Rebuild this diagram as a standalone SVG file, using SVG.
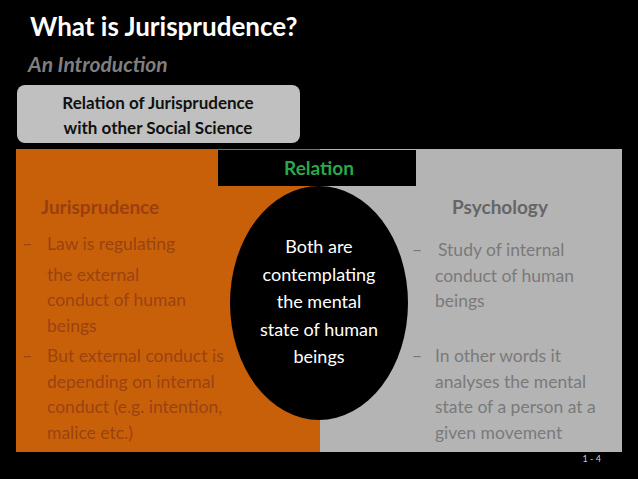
<svg xmlns="http://www.w3.org/2000/svg" width="638" height="479" viewBox="0 0 638 479">
<style>
text{font-family:Lato,"Open Sans","Liberation Sans",sans-serif}
.o{fill:#9a4310;font-size:17.5px}
.g{fill:#7a7a7a;font-size:17.5px}
.w{fill:#fff;font-size:18px}
</style>
<rect width="638" height="479" fill="#000"/>
<g id="title">
<text x="30" y="36" font-size="26" font-weight="bold" fill="#fff">What is Jurisprudence?</text>
<text x="28" y="72" font-size="21" font-weight="bold" font-style="italic" fill="#7f7f7f">An Introduction</text>
</g>
<g id="subtitle">
<rect x="17" y="85" width="283" height="58" rx="8" fill="#c0c0c0"/>
<text x="158" y="109" font-size="17" font-weight="bold" fill="#111" text-anchor="middle">Relation of Jurisprudence</text>
<text x="158" y="134" font-size="17" font-weight="bold" fill="#111" text-anchor="middle">with other Social Science</text>
</g>
<g id="jurisprudence">
<rect x="16" y="149" width="304" height="303" fill="#c8600a"/>
<text x="41" y="214" font-size="19" font-weight="bold" fill="#9a3f0d">Jurisprudence</text>
<text class="o"><tspan x="22" y="250">–</tspan><tspan x="47" y="250">Law is regulating</tspan><tspan x="47" y="281">the external</tspan><tspan x="47" y="306">conduct of human</tspan><tspan x="47" y="332">beings</tspan></text>
<text class="o"><tspan x="22" y="362">–</tspan><tspan x="47" y="362">But external conduct  is</tspan><tspan x="47" y="388">depending on internal</tspan><tspan x="47" y="413">conduct (e.g. intention,</tspan><tspan x="47" y="439">malice etc.)</tspan></text>
</g>
<g id="psychology">
<rect x="320" y="149" width="302" height="303" fill="#b4b4b4"/>
<text x="500" y="214" font-size="19" font-weight="bold" fill="#666" text-anchor="middle">Psychology</text>
<text class="g"><tspan x="412" y="256">–</tspan><tspan x="438" y="256">Study of internal</tspan><tspan x="435" y="282">conduct of human</tspan><tspan x="435" y="307">beings</tspan></text>
<text class="g"><tspan x="412" y="362">–</tspan><tspan x="435" y="362">In other words it</tspan><tspan x="435" y="388">analyses the mental</tspan><tspan x="435" y="413">state of a person at a</tspan><tspan x="435" y="439">given movement</tspan></text>
</g>
<g id="relation">
<rect x="218" y="150" width="198" height="36" fill="#000"/>
<text x="319" y="175" font-size="19" font-weight="bold" fill="#2aa84a" text-anchor="middle">Relation</text>
</g>
<g id="both">
<ellipse cx="319" cy="303" rx="89" ry="117" fill="#000"/>
<text class="w" text-anchor="middle"><tspan x="319" y="253">Both are</tspan><tspan x="319" y="281">contemplating</tspan><tspan x="319" y="308">the mental</tspan><tspan x="319" y="336">state of human</tspan><tspan x="319" y="363">beings</tspan></text>
</g>
<text x="601" y="462" font-size="9" fill="#ccc" text-anchor="end">1 - 4</text>
<g id="connectors"/>
</svg>
